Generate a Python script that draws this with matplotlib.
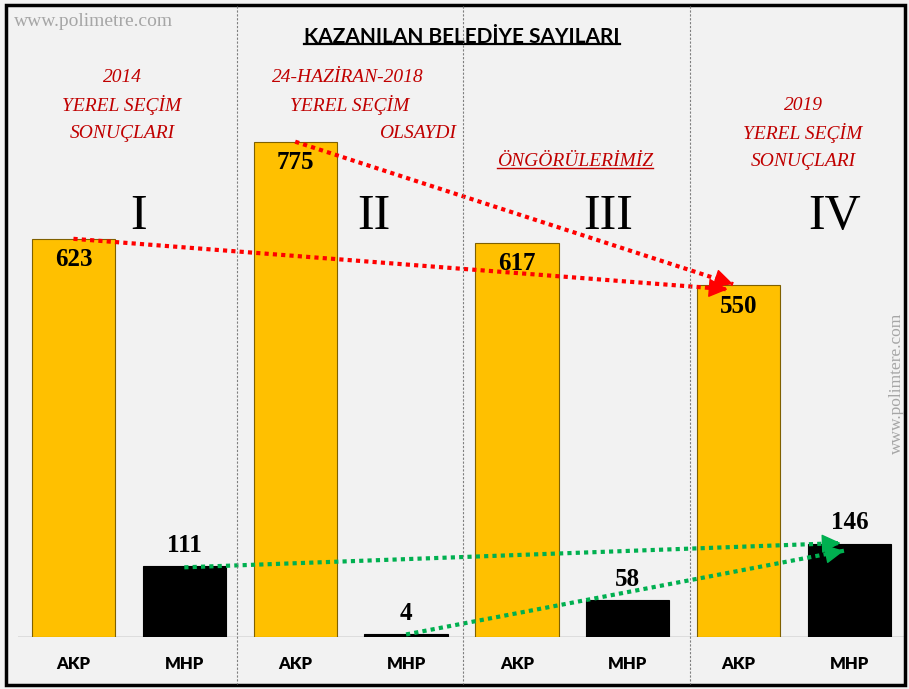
import numpy as np
import matplotlib.pyplot as plt
from matplotlib.lines import Line2D
from matplotlib.patches import Rectangle

# --- data -------------------------------------------------------------------
parties = ['AKP', 'MHP', 'AKP', 'MHP', 'AKP', 'MHP', 'AKP', 'MHP']
akp_values = [623, 775, 617, 550]
mhp_values = [111, 4, 58, 146]
numerals = ['I', 'II', 'III', 'IV']

W, H = 909, 689
BG = '#f2f2f2'
YELLOW = '#ffc000'
RED = '#c00000'

def fx(px):
    return px / W

def fy(py):
    return 1 - py / H

fig = plt.figure(figsize=(W / 100, H / 100), dpi=100, facecolor=BG)
ax = fig.add_axes([fx(18), 52 / H, (905 - 18) / W, (637 - 10) / H])
ax.set_facecolor(BG)

x = np.arange(len(parties))
values = [v for pair in zip(akp_values, mhp_values) for v in pair]
colors = [YELLOW if p == 'AKP' else 'black' for p in parties]
edges = ['#7f6000' if p == 'AKP' else 'black' for p in parties]
bars = ax.bar(x, values, width=0.75, color=colors, edgecolor=edges, linewidth=0.8, zorder=2)

ax.set_xlim(-0.5, 7.5)
ax.set_ylim(0, 981)
for s in ax.spines.values():
    s.set_visible(False)
ax.axhline(0, color='#d9d9d9', lw=1.2, zorder=1)
ax.set_yticks([])
ax.set_xticks(x, labels=parties)
ax.tick_params(axis='x', length=0, pad=14)
for lab in ax.get_xticklabels():
    lab.set_fontfamily('Lato')
    lab.set_fontweight('heavy')
    lab.set_fontsize(12)

# value labels
for xi, v, p in zip(x, values, parties):
    off = -15 if p == 'AKP' else 15
    ax.annotate(str(v), (xi, v), xytext=(0, off), textcoords='offset points',
                ha='center', va='center', fontsize=18, fontweight='bold',
                family='Liberation Serif', color='black', zorder=4)

# arrows: dotted shaft + solid head
def arrow(x0, y0, x1, y1, color):
    ax.plot([x0, x1], [y0, y1], color=color, lw=3, ls=(0, (1, 1)),
            dash_capstyle='butt', zorder=5)
    t = 0.98
    ax.annotate('', xy=(x1, y1), xytext=(x0 + t * (x1 - x0), y0 + t * (y1 - y0)),
                arrowprops=dict(arrowstyle='-|>,head_length=0.8,head_width=0.4',
                                color=color, lw=1, mutation_scale=15,
                                shrinkA=0, shrinkB=0), zorder=5)

arrow(0.0, akp_values[0], 5.9, akp_values[3] - 6, '#ff0000')
arrow(2.0, akp_values[1], 5.95, akp_values[3] + 2, '#ff0000')
arrow(1.0, mhp_values[0] - 2, 6.92, mhp_values[3] + 1, '#00b050')
arrow(3.0, mhp_values[1], 6.95, mhp_values[3] - 11, '#00b050')

# roman numerals
for px, py, t in zip([139, 374, 608, 835], [217, 217, 217, 217], numerals):
    fig.text(fx(px), fy(py), t, ha='center', va='center', fontsize=36,
             family='Liberation Serif', color='black')

# red captions
red_lines = [
    (122, 77, '2014'), (122, 105, 'YEREL SEÇİM'), (122, 133, 'SONUÇLARI'),
    (348, 77, '24-HAZİRAN-2018'), (350, 105, 'YEREL SEÇİM'), (418, 133, 'OLSAYDI'),
    (803, 105, '2019'), (803, 133, 'YEREL SEÇİM'), (803, 161, 'SONUÇLARI'),
]
for px, py, t in red_lines:
    fig.text(fx(px), fy(py), t, ha='center', va='center', fontsize=14, style='italic',
             family='Liberation Serif', color=RED)

ong = fig.text(fx(575), fy(161), 'ÖNGÖRÜLERİMİZ', ha='center', va='center', fontsize=14,
               style='italic', family='Liberation Serif', color=RED)

title = fig.text(fx(462), fy(37), 'KAZANILAN BELEDİYE SAYILARI', ha='center', va='center',
                 fontsize=15, fontweight='bold', family='Lato', color='black')

# watermarks
fig.text(fx(14), fy(22), 'www.polimetre.com', ha='left', va='center', fontsize=14,
         family='Liberation Serif', color='#a6a6a6')
fig.text(fx(897), fy(383), 'www.polimtere.com', ha='center', va='center', fontsize=12.5,
         rotation=90, family='Liberation Serif', color='#a6a6a6')

# underlines
fig.canvas.draw()
r = fig.canvas.get_renderer()
for t, col, gap, lw in [(title, 'black', 3, 1.6), (ong, RED, 2, 1.0)]:
    bb = t.get_window_extent(r)
    fig.add_artist(Line2D([bb.x0 / W, bb.x1 / W], [(bb.y0 + gap) / H] * 2,
                          color=col, lw=lw, transform=fig.transFigure))

# separators and border
for px in [237, 463, 690]:
    fig.add_artist(Line2D([fx(px)] * 2, [fy(6), fy(684)], color='#7f7f7f', lw=0.8,
                          ls=(0, (2, 1.5)), transform=fig.transFigure))
fig.add_artist(Rectangle((fx(6), fy(685)), fx(905 - 6), (685 - 5) / H, fill=False,
                         edgecolor='black', lw=2.5, transform=fig.transFigure))

fig.savefig('out.png', dpi=100, facecolor=BG)
